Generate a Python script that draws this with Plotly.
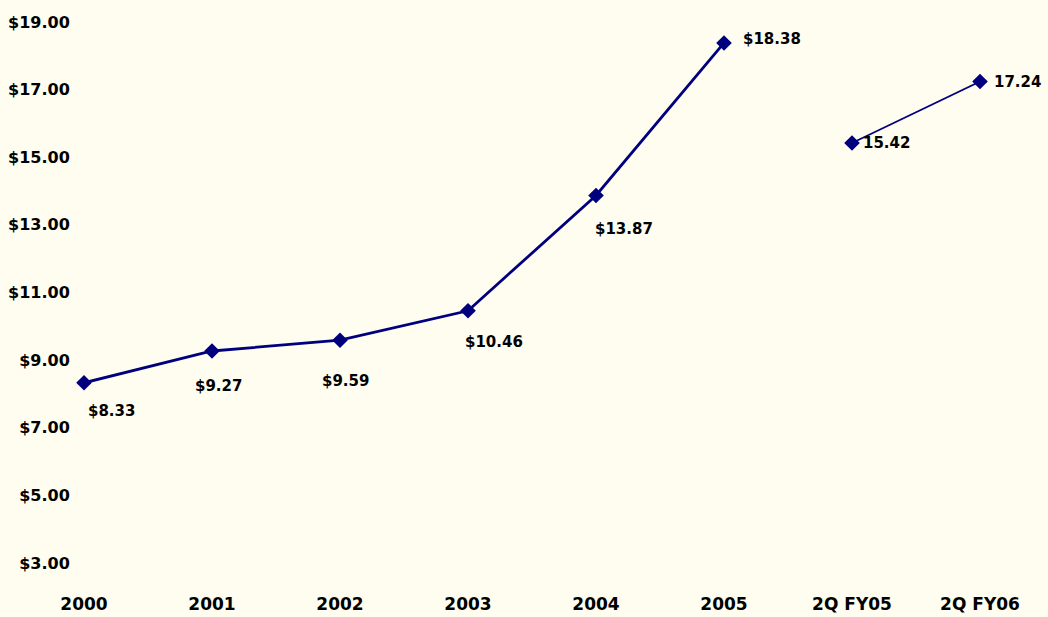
import plotly.graph_objects as go

# Earnings per share, annual and second-quarter
annual_labels = ["2000", "2001", "2002", "2003", "2004", "2005"]
annual_values = [8.33, 9.27, 9.59, 10.46, 13.87, 18.38]

quarter_labels = ["2Q FY05", "2Q FY06"]
quarter_values = [15.42, 17.24]

y_ticks = [3, 5, 7, 9, 11, 13, 15, 17, 19]

categories = annual_labels + quarter_labels

NAVY = "#00007f"
BG = "#fffcf0"
FONT = "DejaVu Sans"

fig = go.Figure()

fig.add_trace(go.Scatter(
    x=annual_labels, y=annual_values, mode="lines+markers",
    line=dict(color=NAVY, width=2.8),
    marker=dict(symbol="diamond", size=12, color=NAVY),
    cliponaxis=False, hoverinfo="skip",
))
fig.add_trace(go.Scatter(
    x=quarter_labels, y=quarter_values, mode="lines+markers",
    line=dict(color=NAVY, width=1.8),
    marker=dict(symbol="diamond", size=12, color=NAVY),
    cliponaxis=False, hoverinfo="skip",
))

# label placement (pixel shift from each point, anchor)
label_style = {
    "2000": (27, -28, "center"),
    "2001": (6, -35, "center"),
    "2002": (5, -41, "center"),
    "2003": (26, -31, "center"),
    "2004": (28, -34, "center"),
    "2005": (17, 4, "left"),
    "2Q FY05": (9, 0, "left"),
    "2Q FY06": (12, 0, "left"),
}

label_font = dict(family=FONT, size=15, color="black", weight="bold")

for lab, val in zip(annual_labels, annual_values):
    dx, dy, anchor = label_style[lab]
    fig.add_annotation(x=categories.index(lab), y=val, text=f"${val:.2f}",
                       showarrow=False, xshift=dx, yshift=dy, xanchor=anchor,
                       font=label_font)
for lab, val in zip(quarter_labels, quarter_values):
    dx, dy, anchor = label_style[lab]
    fig.add_annotation(x=categories.index(lab), y=val, text=f"{val:.2f}",
                       showarrow=False, xshift=dx, yshift=dy, xanchor=anchor,
                       font=label_font)

fig.update_layout(
    width=1048, height=617,
    margin=dict(l=84, r=68, t=22, b=54),
    paper_bgcolor=BG, plot_bgcolor=BG,
    showlegend=False,
    font=dict(family=FONT, size=16, color="black", weight="bold"),
    xaxis=dict(
        type="category", categoryorder="array", categoryarray=categories,
        range=[0, len(categories) - 1],
        showgrid=False, zeroline=False, showline=False,
        ticks="outside", ticklen=26, tickcolor=BG, automargin=False,
        tickfont=dict(family=FONT, size=17, color="black", weight="bold"),
    ),
    yaxis=dict(
        range=[3, 19], tickvals=y_ticks,
        ticktext=[f"${v:.2f}" for v in y_ticks],
        showgrid=False, zeroline=False, showline=False,
        ticks="outside", ticklen=10, tickcolor=BG, automargin=False,
        tickfont=dict(family=FONT, size=16, color="black", weight="bold"),
    ),
)

fig.write_html("out.html")
